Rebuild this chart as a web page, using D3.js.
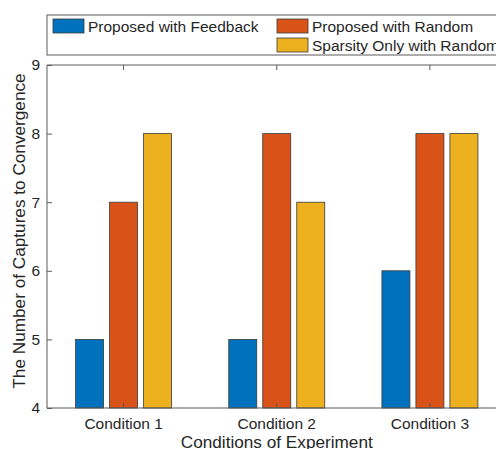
<!DOCTYPE html>
<html>
<head>
<meta charset="utf-8">
<script src="https://cdn.jsdelivr.net/npm/d3@7"></script>
<style>
html,body{margin:0;padding:0;background:#fff;overflow:hidden;}
svg{display:block;}
text{font-family:"Liberation Sans",Arial,sans-serif;fill:#262626;}
</style>
</head>
<body>
<script>
const categories = ["Condition 1", "Condition 2", "Condition 3"];
const seriesNames = ["Proposed with Feedback", "Proposed with Random", "Sparsity Only with Random"];
const feedback = [5, 5, 6];
const random = [7, 8, 8];
const sparsity = [8, 7, 8];
const yTicks = [4, 5, 6, 7, 8, 9];
const colors = ["#0072BD", "#D95319", "#EDB120"];
const seriesValues = [feedback, random, sparsity];

const W = 496, H = 449;
const svg = d3.select("body").append("svg").attr("width", W).attr("height", H);

const mLeft = 47, mRight = 506.5, mTop = 65, mBottom = 408;

const x0 = d3.scaleBand().domain(categories).range([mLeft, mRight]).padding(0);
const x1 = d3.scaleBand().domain(seriesNames).range([-48, 48]).paddingInner(0.1765).paddingOuter(0);
const y = d3.scaleLinear().domain([4, 9]).range([mBottom, mTop]);

const axisColor = "#5a5a5a";
const fontFam = '"Liberation Sans",Arial,sans-serif';
const tickFont = 15.5, titleFont = 17.2;

// bars
const groups = svg.append("g").selectAll("g").data(categories).join("g")
  .attr("transform", d => `translate(${x0(d) + x0.bandwidth() / 2},0)`);
groups.selectAll("rect").data((c, ci) => seriesNames.map((s, si) => ({s, si, v: seriesValues[si][ci]})))
  .join("rect")
  .attr("x", d => x1(d.s))
  .attr("width", x1.bandwidth())
  .attr("y", d => y(d.v))
  .attr("height", d => y(4) - y(d.v))
  .attr("fill", d => colors[d.si])
  .attr("stroke", "#3a3a3a")
  .attr("stroke-width", 0.8);

// axes box
const ax = svg.append("g");
ax.append("line").attr("x1", mLeft).attr("x2", mRight).attr("y1", mBottom).attr("y2", mBottom).attr("stroke", axisColor);
ax.append("line").attr("x1", mLeft).attr("x2", mRight).attr("y1", mTop).attr("y2", mTop).attr("stroke", axisColor);
ax.append("line").attr("x1", mLeft).attr("x2", mLeft).attr("y1", mTop).attr("y2", mBottom).attr("stroke", axisColor);
ax.append("line").attr("x1", mRight).attr("x2", mRight).attr("y1", mTop).attr("y2", mBottom).attr("stroke", axisColor);

// y axis
const yAxis = d3.axisLeft(y).tickValues(yTicks).tickSize(-5).tickPadding(7).tickFormat(d3.format("d"));
const gy = svg.append("g").attr("transform", `translate(${mLeft},0)`).call(yAxis);
gy.select(".domain").remove();
gy.selectAll(".tick line").attr("stroke", axisColor);
gy.selectAll(".tick text").attr("font-size", tickFont).style("font-family", fontFam).attr("fill", "#262626");

// x axis bottom
const xAxis = d3.axisBottom(x0).tickSize(-5).tickPadding(10);
const gx = svg.append("g").attr("transform", `translate(0,${mBottom})`).call(xAxis);
gx.select(".domain").remove();
gx.selectAll(".tick line").attr("stroke", axisColor);
gx.selectAll(".tick text").attr("font-size", tickFont).style("font-family", fontFam).attr("fill", "#262626");

// x axis top ticks
const xTop = d3.axisTop(x0).tickSize(-5).tickFormat("");
const gxt = svg.append("g").attr("transform", `translate(0,${mTop})`).call(xTop);
gxt.select(".domain").remove();
gxt.selectAll(".tick line").attr("stroke", axisColor);

// axis titles
svg.append("text").attr("x", (mLeft + mRight) / 2).attr("y", 448)
  .attr("text-anchor", "middle").attr("font-size", titleFont).text("Conditions of Experiment");
svg.append("text").attr("transform", `translate(25,231) rotate(-90)`)
  .attr("text-anchor", "middle").attr("font-size", titleFont).text("The Number of Captures to Convergence");

// legend
const lg = svg.append("g");
lg.append("rect").attr("x", 47).attr("y", 15).attr("width", 500).attr("height", 40)
  .attr("fill", "#fff").attr("stroke", axisColor);
const legendPos = [[53, 19], [277, 19], [277, 38]];
seriesNames.forEach((s, i) => {
  const [lx, ly] = legendPos[i];
  lg.append("rect").attr("x", lx).attr("y", ly).attr("width", 31).attr("height", 14)
    .attr("fill", colors[i]).attr("stroke", "#3a3a3a").attr("stroke-width", 0.8);
  lg.append("text").attr("x", lx + 35).attr("y", ly + 12.5).attr("font-size", tickFont).text(s);
});
</script>
</body>
</html>
